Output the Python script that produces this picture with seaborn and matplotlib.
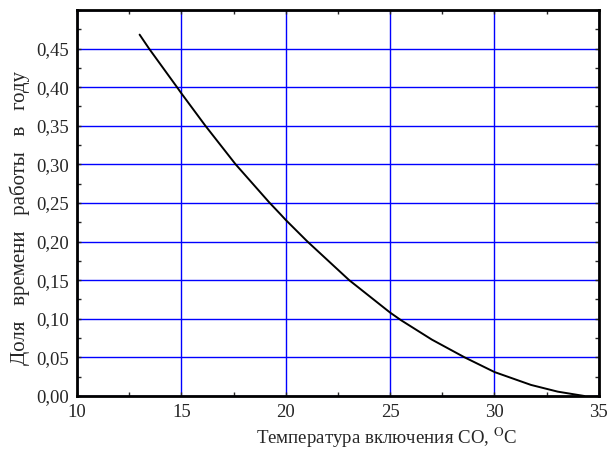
import numpy as np
import pandas as pd
import matplotlib
matplotlib.use("Agg")
import matplotlib.pyplot as plt
import seaborn as sns
from matplotlib.ticker import MultipleLocator, FuncFormatter

# доля времени работы в году от температуры включения
temp = [13.0, 13.45, 14.79, 15.0, 16.15, 17.60, 19.20, 19.76, 20.0, 21.04, 23.04, 25.0, 25.53,
        27.0, 28.57, 30.0, 31.75, 33.03, 34.3]
dolya = [0.468, 0.450, 0.400, 0.392, 0.350, 0.300, 0.251, 0.235, 0.228, 0.200, 0.150, 0.108, 0.098,
         0.073, 0.050, 0.031, 0.0143, 0.0056, 0.0]

df = pd.DataFrame({"t": temp, "d": dolya})

sns.set_style("ticks")
plt.rcParams["font.family"] = ["Liberation Serif", "DejaVu Serif"]
plt.rcParams["mathtext.fontset"] = "stix"

fig = plt.figure(figsize=(6.08, 4.51), dpi=100)
ax = fig.add_axes([0.1266, 0.122, 0.8584, 0.856])

ax.grid(True, which="major", color="#0000ff", lw=1)
sns.lineplot(data=df, x="t", y="d", color="black", lw=1.4, ax=ax, zorder=3)

ax.set_xlim(10, 35)
ax.set_ylim(0, 0.5)
ax.xaxis.set_major_locator(MultipleLocator(5))
ax.xaxis.set_minor_locator(MultipleLocator(2.5))
ax.yaxis.set_major_locator(MultipleLocator(0.05))
ax.yaxis.set_minor_locator(MultipleLocator(0.025))
ax.yaxis.set_major_formatter(FuncFormatter(lambda v, p: f"{v:.2f}".replace(".", ",") if v < 0.49 else ""))

ax.tick_params(which="both", direction="in", top=True, right=True, labelsize=13.5, length=3, width=1)
ax.tick_params(axis="x", pad=6)
ax.tick_params(axis="y", pad=6)
for s in ax.spines.values():
    s.set_linewidth(2)
    s.set_color("black")

ax.set_xlabel("Температура включения СО, $^{\\mathrm{O}}$С", fontsize=13.6)
ax.set_ylabel("Доля   времени   работы   в   году", fontsize=15)
# подписи в оригинале немного смещены от центра осей
ax.xaxis.set_label_coords(0.594, -0.077)
ax.yaxis.set_label_coords(-0.09, 0.461)

fig.savefig("out.png", dpi=100)
